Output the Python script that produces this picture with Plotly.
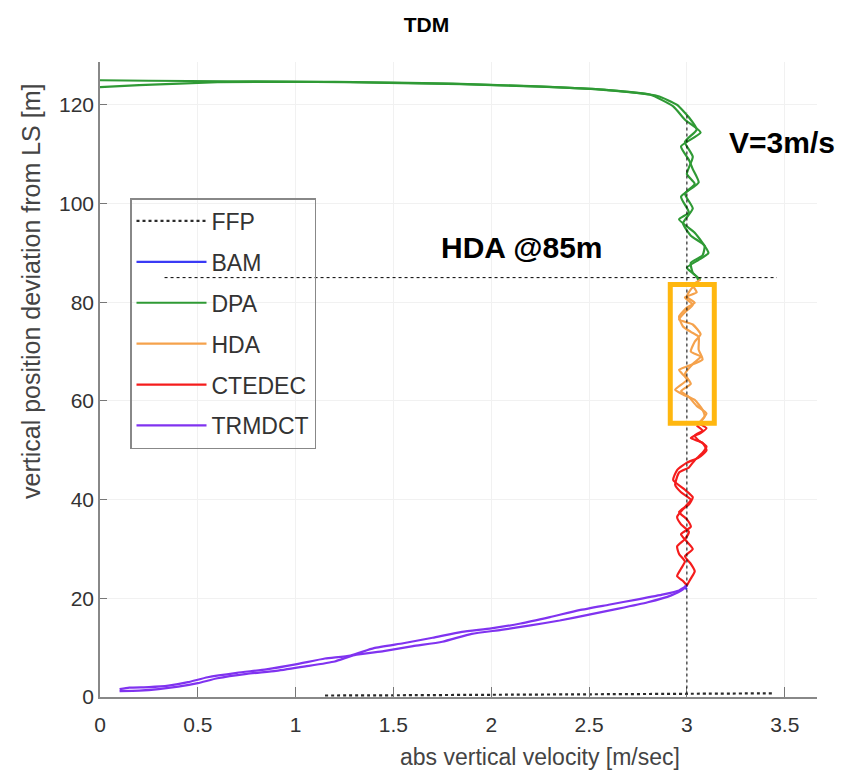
import plotly.graph_objects as go

# Descent phases: two runs per phase, separated by None
trmdct_x = [0.10, 0.15, 0.25, 0.35, 0.45, 0.55, 0.70, 0.85, 1.00, 1.15, 1.28, 1.40, 1.55, 1.70, 1.85, 2.00, 2.15, 2.30, 2.45, 2.60, 2.75, 2.88, 2.96, 3.00,
            None,
            0.10, 0.20, 0.30, 0.40, 0.50, 0.60, 0.75, 0.90, 1.05, 1.20, 1.30, 1.45, 1.60, 1.75, 1.90, 2.05, 2.20, 2.35, 2.50, 2.65, 2.80, 2.92, 2.98, 3.00]
trmdct_y = [1.6, 1.9, 2.0, 2.3, 3.0, 4.0, 4.9, 5.6, 6.6, 7.8, 8.4, 9.9, 10.9, 12.0, 13.2, 13.9, 14.9, 16.2, 17.6, 18.7, 19.8, 20.8, 21.6, 22.6,
            None,
            1.2, 1.3, 1.6, 2.1, 2.8, 3.8, 4.7, 5.3, 6.2, 7.2, 8.5, 9.3, 10.3, 11.2, 12.8, 13.6, 14.5, 15.5, 16.7, 17.9, 19.2, 20.6, 21.8, 22.6]

ctedec_x = [3.00, 2.98, 2.95, 2.97, 2.99, 2.96, 2.95, 2.99, 3.01, 2.97, 2.95, 2.99, 3.02, 2.97, 2.94, 2.96, 3.01, 3.04, 3.08, 3.10, 3.06, 3.04, 3.08, 3.05,
            None,
            3.00, 3.02, 3.04, 3.02, 2.99, 3.03, 3.00, 2.97, 3.02, 3.00, 2.96, 3.01, 3.03, 2.99, 2.93, 2.95, 3.00, 3.06, 3.10, 3.08, 3.02, 3.07, 3.10, 3.06]
ctedec_y = [22.6, 23.5, 24.5, 26.0, 27.5, 29.0, 30.5, 32.0, 33.5, 35.0, 36.5, 38.5, 40.0, 41.5, 43.0, 45.5, 46.5, 48.0, 49.5, 50.8, 52.0, 53.0, 54.0, 55.0,
            None,
            22.6, 24.0, 25.5, 27.0, 28.5, 30.0, 31.5, 33.0, 34.5, 36.0, 37.5, 39.0, 40.5, 42.0, 44.0, 46.0, 47.5, 48.5, 50.0, 51.5, 52.5, 53.5, 54.5, 55.5]

hda_x = [3.05, 3.09, 3.08, 3.04, 2.98, 2.94, 3.00, 2.96, 3.00, 3.08, 3.06, 3.06, 3.02, 2.98, 2.96, 3.00, 3.04, 3.00, 3.02, 3.06,
         None,
         3.06, 3.10, 3.05, 3.01, 2.97, 3.02, 2.99, 3.03, 3.07, 3.02, 3.04, 3.07, 3.03, 2.96, 2.99, 3.03, 2.99, 3.05, 3.03, 3.07]
hda_y = [55.0, 56.8, 58.2, 60.2, 61.3, 62.3, 64.3, 66.3, 67.0, 68.4, 70.4, 73.0, 74.0, 75.1, 77.1, 78.9, 79.9, 81.1, 82.6, 84.3,
         None,
         55.5, 57.5, 59.0, 60.8, 62.0, 63.5, 65.5, 67.5, 69.0, 70.0, 72.0, 73.5, 75.5, 76.5, 78.0, 79.5, 81.0, 82.0, 83.5, 84.6]

dpa_x = [3.06, 3.05, 3.00, 3.06, 3.11, 3.04, 2.96, 3.01, 2.97, 3.06, 3.03, 3.01, 2.97, 3.07, 2.99, 2.93, 2.81, 2.56, 2.20, 1.80, 1.20, 0.60, 0.20, 0.00,
         None,
         3.07, 3.03, 3.02, 3.08, 3.09, 3.02, 2.98, 3.03, 2.99, 3.04, 3.00, 3.03, 2.99, 3.05, 3.01, 2.95, 2.85, 2.60, 2.25, 1.85, 1.25, 0.65, 0.25, 0.00]
dpa_y = [84.3, 85.2, 87.0, 88.6, 90.0, 94.1, 96.8, 98.2, 101.4, 104.3, 107.0, 108.9, 111.6, 114.4, 117.0, 119.7, 122.1, 123.1, 123.8, 124.3, 124.7, 124.6, 124.0, 123.6,
         None,
         84.6, 86.0, 88.0, 89.5, 91.5, 93.5, 96.0, 99.0, 102.0, 104.0, 106.0, 109.5, 112.5, 115.0, 117.5, 120.0, 121.8, 123.0, 123.7, 124.2, 124.6, 124.8, 124.9, 125.0]

bam_x = [3.00, 2.99, 3.00]
bam_y = [21.8, 22.3, 22.8]

ffp_x = [1.15, 1.50, 2.00, 2.50, 3.00, 3.45]
ffp_y = [0.3, 0.35, 0.45, 0.55, 0.65, 0.75]

x_ticks = [0, 0.5, 1, 1.5, 2, 2.5, 3, 3.5]
x_tick_text = ["0", "0.5", "1", "1.5", "2", "2.5", "3", "3.5"]
y_ticks = [0, 20, 40, 60, 80, 100, 120]

hda_level = 85
v_ref = 3
hda_box_x = [2.915, 3.14]
hda_box_y = [55.5, 83.6]

series = [
    ("FFP", ffp_x, ffp_y, "#2b2b2b", "dot"),
    ("BAM", bam_x, bam_y, "#3a3af5", "solid"),
    ("DPA", dpa_x, dpa_y, "#2f9a35", "solid"),
    ("HDA", hda_x, hda_y, "#f5a24c", "solid"),
    ("CTEDEC", ctedec_x, ctedec_y, "#f51c1c", "solid"),
    ("TRMDCT", trmdct_x, trmdct_y, "#8033f0", "solid"),
]

fig = go.Figure()
for name, xs, ys, color, dash in series:
    fig.add_trace(go.Scatter(
        x=xs, y=ys, mode="lines", name=name, legendgroup=name,
        line=dict(color=color, width=2.2, dash=dash, shape="spline", smoothing=0.5),
        connectgaps=False,
    ))

# Reference guides
fig.add_shape(type="line", xref="x", yref="y", x0=0.33, x1=3.46, y0=hda_level, y1=hda_level,
              line=dict(color="black", width=1, dash="dot"))
fig.add_shape(type="line", xref="x", yref="y", x0=v_ref, x1=v_ref, y0=0.5, y1=118.5,
              line=dict(color="black", width=1, dash="dot"))
fig.add_shape(type="rect", xref="x", yref="y", x0=hda_box_x[0], x1=hda_box_x[1],
              y0=hda_box_y[0], y1=hda_box_y[1],
              line=dict(color="#ffb70f", width=5))

font_main = "Liberation Sans, Arial, sans-serif"
W, L, T, B = 717, 100, 62, 697
H = B - T


def px(xp, yp):
    return (xp - L) / W, (B - yp) / H


ax, ay = px(782, 142)
fig.add_annotation(text="<b>V=3m/s</b>", xref="paper", yref="paper", x=ax, y=ay,
                   xanchor="center", yanchor="middle", showarrow=False,
                   font=dict(size=30, color="black", family=font_main))
ax, ay = px(522, 247)
fig.add_annotation(text="<b>HDA @85m</b>", xref="paper", yref="paper", x=ax, y=ay,
                   xanchor="center", yanchor="middle", showarrow=False,
                   font=dict(size=30, color="black", family=font_main))
ax, ay = px(540, 757)
fig.add_annotation(text="abs vertical velocity [m/sec]", xref="paper", yref="paper", x=ax, y=ay,
                   xanchor="center", yanchor="middle", showarrow=False,
                   font=dict(size=23, color="#444", family=font_main))
ax, ay = px(31, 292)
fig.add_annotation(text="vertical position deviation from LS [m]", xref="paper", yref="paper",
                   x=ax, y=ay, xanchor="center", yanchor="middle", textangle=-90, showarrow=False,
                   font=dict(size=25, color="#444", family=font_main))

lx, ly = px(130, 198)
fig.update_layout(
    width=853, height=771,
    margin=dict(l=L, r=853 - L - W, t=T, b=771 - B),
    paper_bgcolor="white", plot_bgcolor="white",
    title=dict(text="<b>TDM</b>", x=0.5, xanchor="center", y=1 - 25 / 771, yanchor="middle",
               font=dict(size=21, color="black", family=font_main)),
    font=dict(family=font_main, size=21, color="#333"),
    showlegend=True,
    legend=dict(x=lx, y=ly, xanchor="left", yanchor="top",
                bordercolor="#888", borderwidth=1.5, bgcolor="rgba(0,0,0,0)",
                font=dict(size=23, color="#333", family=font_main),
                tracegroupgap=8, itemwidth=70),
)
fig.update_xaxes(range=[0, 3.665], tickvals=x_ticks, ticktext=x_tick_text,
                 ticks="inside", ticklen=10, tickcolor="#777", showline=True, linecolor="#888",
                 linewidth=1.5, showgrid=True, gridcolor="#f1f1f1", zeroline=False, mirror=False,
                 tickfont=dict(size=21, color="#333"), ticklabelstandoff=8)
fig.update_yaxes(range=[0, 128.7], tickvals=y_ticks, ticks="inside", ticklen=7, tickcolor="#777",
                 showline=True, linecolor="#888", linewidth=1.5, showgrid=True, gridcolor="#f1f1f1",
                 zeroline=False, mirror=False, tickfont=dict(size=21, color="#333"))

fig.write_html("out.html")
